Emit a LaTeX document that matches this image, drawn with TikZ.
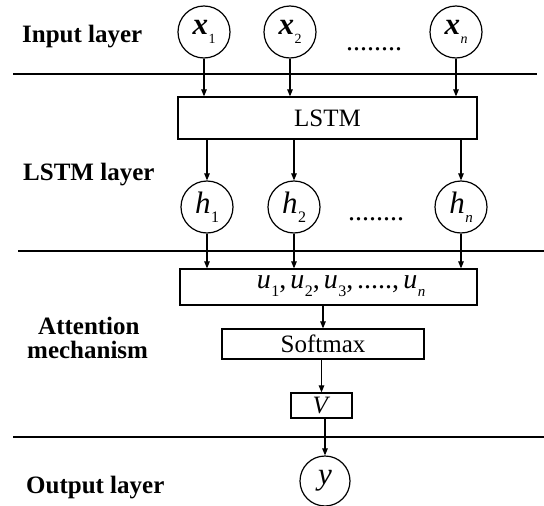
\documentclass[tikz,border=0pt]{standalone}
\usepackage{fontspec}
\setmainfont{Liberation Serif}
\usetikzlibrary{arrows.meta}
\newcommand\vsub[3][14]{#2\kern0.5pt\raisebox{-0.28em}{\fontsize{#1}{#1}\selectfont #3}}
\newcommand\ucom{,\kern4pt}
\begin{document}
\begin{tikzpicture}[x=1pt,y=-1pt,
  lbl/.style={font=\fontsize{25}{27}\selectfont\bfseries, anchor=base west, inner sep=0},
  circ/.style={draw, circle, minimum size=52pt, inner sep=0, line width=1.2pt},
  boxn/.style={draw, rectangle, line width=1.2pt, inner sep=0},
  arr/.style={-{Triangle[length=7pt,width=5.5pt]}, line width=1.1pt},
  sepline/.style={line width=1.1pt},
  txt/.style={font=\fontsize{25}{27}\selectfont},
  ctxt/.style={font=\fontsize{31}{33}\selectfont},
  utxt/.style={font=\fontsize{28}{30}\selectfont},
  dots/.style={font=\fontsize{28}{30}\selectfont, anchor=base, inner sep=0}
]
\useasboundingbox (0,0) rectangle (544,506);

% labels
\node[lbl] (linput) at (22,42) {Input layer};
\node[lbl] (llstm) at (23,180) {LSTM layer};
\node[lbl] (latt) at (38,334) {Attention};
\node[lbl] (lmech) at (27,358) {mechanism};
\node[lbl] (lout) at (26,493) {Output layer};

% separators
\coordinate (s1a) at (13,74);  \coordinate (s1b) at (537,74);
\coordinate (s2a) at (18,251); \coordinate (s2b) at (544,251);
\coordinate (s3a) at (13,437); \coordinate (s3b) at (544,437);
\draw[sepline] (s1a) -- (s1b);
\draw[sepline] (s2a) -- (s2b);
\draw[sepline] (s3a) -- (s3b);

% input nodes
\node[circ, ctxt] (x1) at (204,32) {\vsub{\textbf{\textit{x}}}{1}};
\node[circ, ctxt] (x2) at (290,32) {\vsub{\textbf{\textit{x}}}{2}};
\node[circ, ctxt] (xn) at (456,32) {\vsub{\textbf{\textit{x}}}{\textit{n}}};
\node[dots] (d1) at (374,50) {........};

% LSTM box
\node[boxn, txt, minimum width=299pt, minimum height=42pt] (lstm) at (327.5,118) {LSTM};

% hidden nodes
\node[circ, ctxt] (h1) at (207,207) {\vsub[16]{\textit{h}}{1}};
\node[circ, ctxt] (h2) at (294,207) {\vsub[16]{\textit{h}}{2}};
\node[circ, ctxt] (hn) at (461,207) {\vsub[15]{\textit{h}}{\textit{n}}};
\node[dots] (d2) at (376,220) {........};

% attention
\node[boxn, minimum width=297pt, minimum height=36pt] (ubox) at (328.5,287) {};
\node[utxt, inner sep=0] (utext) at (341,286) {\vsub[16]{\textit{u}}{1}\ucom\vsub[16]{\textit{u}}{2}\ucom\vsub[16]{\textit{u}}{3}\ucom.....\ucom\vsub[15]{\textit{u}}{\textit{n}}};
\node[boxn, txt, minimum width=202pt, minimum height=30pt] (soft) at (323,344) {Softmax};
\node[boxn, txt, minimum width=61pt, minimum height=25pt] (vbox) at (321.5,405.5) {\textit{V}};

% output
\node[circ, ctxt, minimum size=50pt] (yout) at (325,481) {\textit{y}};

% arrows
\draw[arr] (x1) -- (x1 |- lstm.north);
\draw[arr] (x2) -- (x2 |- lstm.north);
\draw[arr] (xn) -- (xn |- lstm.north);
\draw[arr] (lstm.south -| h1) -- (h1);
\draw[arr] (lstm.south -| h2) -- (h2);
\draw[arr] (lstm.south -| hn) -- (hn);
\draw[arr] (h1) -- (h1 |- ubox.north);
\draw[arr] (h2) -- (h2 |- ubox.north);
\draw[arr] (hn) -- (hn |- ubox.north);
\draw[arr] (ubox.south -| soft.north) -- (soft.north);
\draw[arr] (soft.south -| vbox.north) -- (vbox.north);
\draw[arr] (vbox.south -| yout.north) -- (yout.north);
\end{tikzpicture}
\end{document}
